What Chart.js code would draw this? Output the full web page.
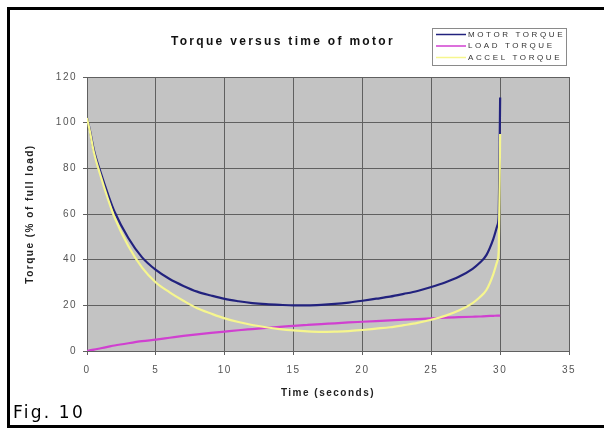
<!DOCTYPE html>
<html lang="en">
<head>
    <meta charset="UTF-8">
    <title>Torque versus time of motor</title>
    <script src="https://cdn.jsdelivr.net/npm/chart.js"></script>
    <style>
        html, body { margin: 0; padding: 0; background: #fff; overflow: hidden; }
        #wrap { position: relative; width: 604px; height: 428px; }
        #torqueChart { position: absolute; left: 0; top: 0; }
        /* figure frame, right side runs off the page */
        #frame {
            position: absolute; left: 7px; top: 7px; width: 620px; height: 415px;
            border: 3px solid #000; pointer-events: none;
        }
        #caption {
            position: absolute; left: 13px; top: 402px;
            font-family: "DejaVu Sans", Verdana, sans-serif; font-size: 17px;
            letter-spacing: 2.2px; color: #000;
        }
    </style>
</head>
<body>
<div id="wrap">
    <canvas id="torqueChart" width="604" height="428"></canvas>
    <div id="frame"></div>
    <div id="caption">Fig. 10</div>
</div>

<script>
    // time in seconds and torque as % of full load
    var timeS       = [0, 0.2, 0.5, 1, 1.5, 2, 3, 4, 5, 6, 7, 8, 9, 10, 11, 12, 13, 14, 15, 16, 17, 18, 19, 20,
                       21, 22, 23, 24, 25, 26, 27, 28, 28.5, 29, 29.5, 29.8, 29.9, 30];
    var motorTorque = [102, 97, 88, 78, 69, 61, 49.5, 41, 35.5, 31.5, 28.5, 26, 24.3, 22.8, 21.8, 21, 20.5, 20.2, 20, 20, 20.2, 20.6, 21.2, 22,
                       22.9, 23.8, 25, 26.3, 28, 30, 32.5, 36, 38.5, 42, 49, 55, 60, 111];
    var loadTorque  = [0, 0.3, 0.6, 1.2, 1.8, 2.4, 3.4, 4.3, 5, 5.8, 6.6, 7.3, 7.9, 8.5, 9.1, 9.6, 10.1, 10.6, 11, 11.4, 11.8, 12.1, 12.5, 12.8,
                       13.1, 13.4, 13.7, 14, 14.3, 14.6, 14.8, 15, 15.1, 15.3, 15.4, 15.5, 15.5, 15.5];
    var accelTorque = [102, 96.5, 87, 76.5, 67, 58.5, 46, 36.5, 30, 25.7, 22, 18.7, 16.4, 14.3, 12.7, 11.4, 10.4, 9.6, 9, 8.6, 8.4, 8.5, 8.7, 9.2,
                       9.8, 10.4, 11.3, 12.3, 13.7, 15.4, 17.7, 21, 23.4, 26.7, 33.6, 39.5, 44.5, 95];

    var seriesNames  = ['MOTOR TORQUE', 'LOAD TORQUE', 'ACCEL TORQUE'];
    var seriesColors = ['#22227e', '#d040d0', '#f6f68e'];
    var xTicks = { min: 0, max: 35, step: 5 };
    var yTicks = { min: 0, max: 120, step: 20 };

    function pts(ys) {
        return ys.map(function (y, i) { return { x: timeS[i], y: y }; });
    }

    // grey plot area plus spaced-out lettering like the old spreadsheet chart
    var plotBack = {
        id: 'plotBack',
        beforeDraw: function (chart) {
            var c = chart.ctx, a = chart.chartArea;
            c.save();
            c.fillStyle = '#c3c3c3';
            c.fillRect(a.left, a.top, a.right - a.left, a.bottom - a.top);
            c.restore();
            c.letterSpacing = '1.5px';
        }
    };

    // title and boxed legend in the top band
    var header = {
        id: 'header',
        afterDraw: function (chart) {
            var c = chart.ctx;
            c.save();
            c.fillStyle = '#111';
            c.font = 'bold 12px "Liberation Sans", Arial, sans-serif';
            c.letterSpacing = '2.3px';
            c.textAlign = 'left';
            c.textBaseline = 'middle';
            c.fillText('Torque versus time of motor', 171, 42);

            c.strokeStyle = '#8a8a8a';
            c.lineWidth = 1;
            c.strokeRect(432.5, 28.5, 134, 37);
            c.font = '8px "Liberation Sans", Arial, sans-serif';
            c.letterSpacing = '2.6px';
            c.fillStyle = '#333';
            chart.data.datasets.forEach(function (ds, i) {
                var y = 34.5 + i * 11.5;
                c.strokeStyle = ds.borderColor;
                c.lineWidth = 1.5;
                c.beginPath();
                c.moveTo(436, y);
                c.lineTo(466, y);
                c.stroke();
                c.fillText(ds.label, 468, y);
            });
            c.restore();
        }
    };

    var ctx = document.getElementById('torqueChart').getContext('2d');
    var chart = new Chart(ctx, {
        type: 'line',
        data: {
            datasets: [
                { label: seriesNames[0], data: pts(motorTorque), borderColor: seriesColors[0], order: 2 },
                { label: seriesNames[1], data: pts(loadTorque),  borderColor: seriesColors[1], order: 1 },
                { label: seriesNames[2], data: pts(accelTorque), borderColor: seriesColors[2], order: 0 }
            ]
        },
        options: {
            responsive: false,
            animation: false,
            layout: { padding: { top: 77, right: 35, left: 0, bottom: 0 } },
            elements: {
                point: { radius: 0 },
                line: { borderWidth: 2.2, fill: false, cubicInterpolationMode: 'monotone' }
            },
            plugins: {
                legend: { display: false },
                title: { display: false },
                tooltip: { enabled: false }
            },
            scales: {
                x: {
                    type: 'linear',
                    min: xTicks.min, max: xTicks.max,
                    afterFit: function (s) { s.height = 77; },
                    ticks: {
                        stepSize: xTicks.step, padding: 9, color: '#555',
                        font: { family: '"Liberation Sans", Arial, sans-serif', size: 10 }
                    },
                    grid: { color: '#606060', tickLength: 4, lineWidth: 1 },
                    border: { color: '#606060' },
                    title: {
                        display: true, text: 'Time (seconds)', color: '#222',
                        font: { family: '"Liberation Sans", Arial, sans-serif', size: 10, weight: 'bold' },
                        padding: { top: 0, bottom: 29 }
                    }
                },
                y: {
                    min: yTicks.min, max: yTicks.max,
                    afterFit: function (s) { s.width = 87; },
                    ticks: {
                        stepSize: yTicks.step, padding: 6, color: '#555',
                        font: { family: '"Liberation Sans", Arial, sans-serif', size: 10 }
                    },
                    grid: { color: '#606060', tickLength: 4, lineWidth: 1 },
                    border: { color: '#606060' },
                    title: {
                        display: true, text: 'Torque (% of full load)', color: '#222',
                        font: { family: '"Liberation Sans", Arial, sans-serif', size: 10, weight: 'bold' },
                        padding: { top: 24, bottom: 0 }
                    }
                }
            }
        },
        plugins: [plotBack, header]
    });
</script>
</body>
</html>
